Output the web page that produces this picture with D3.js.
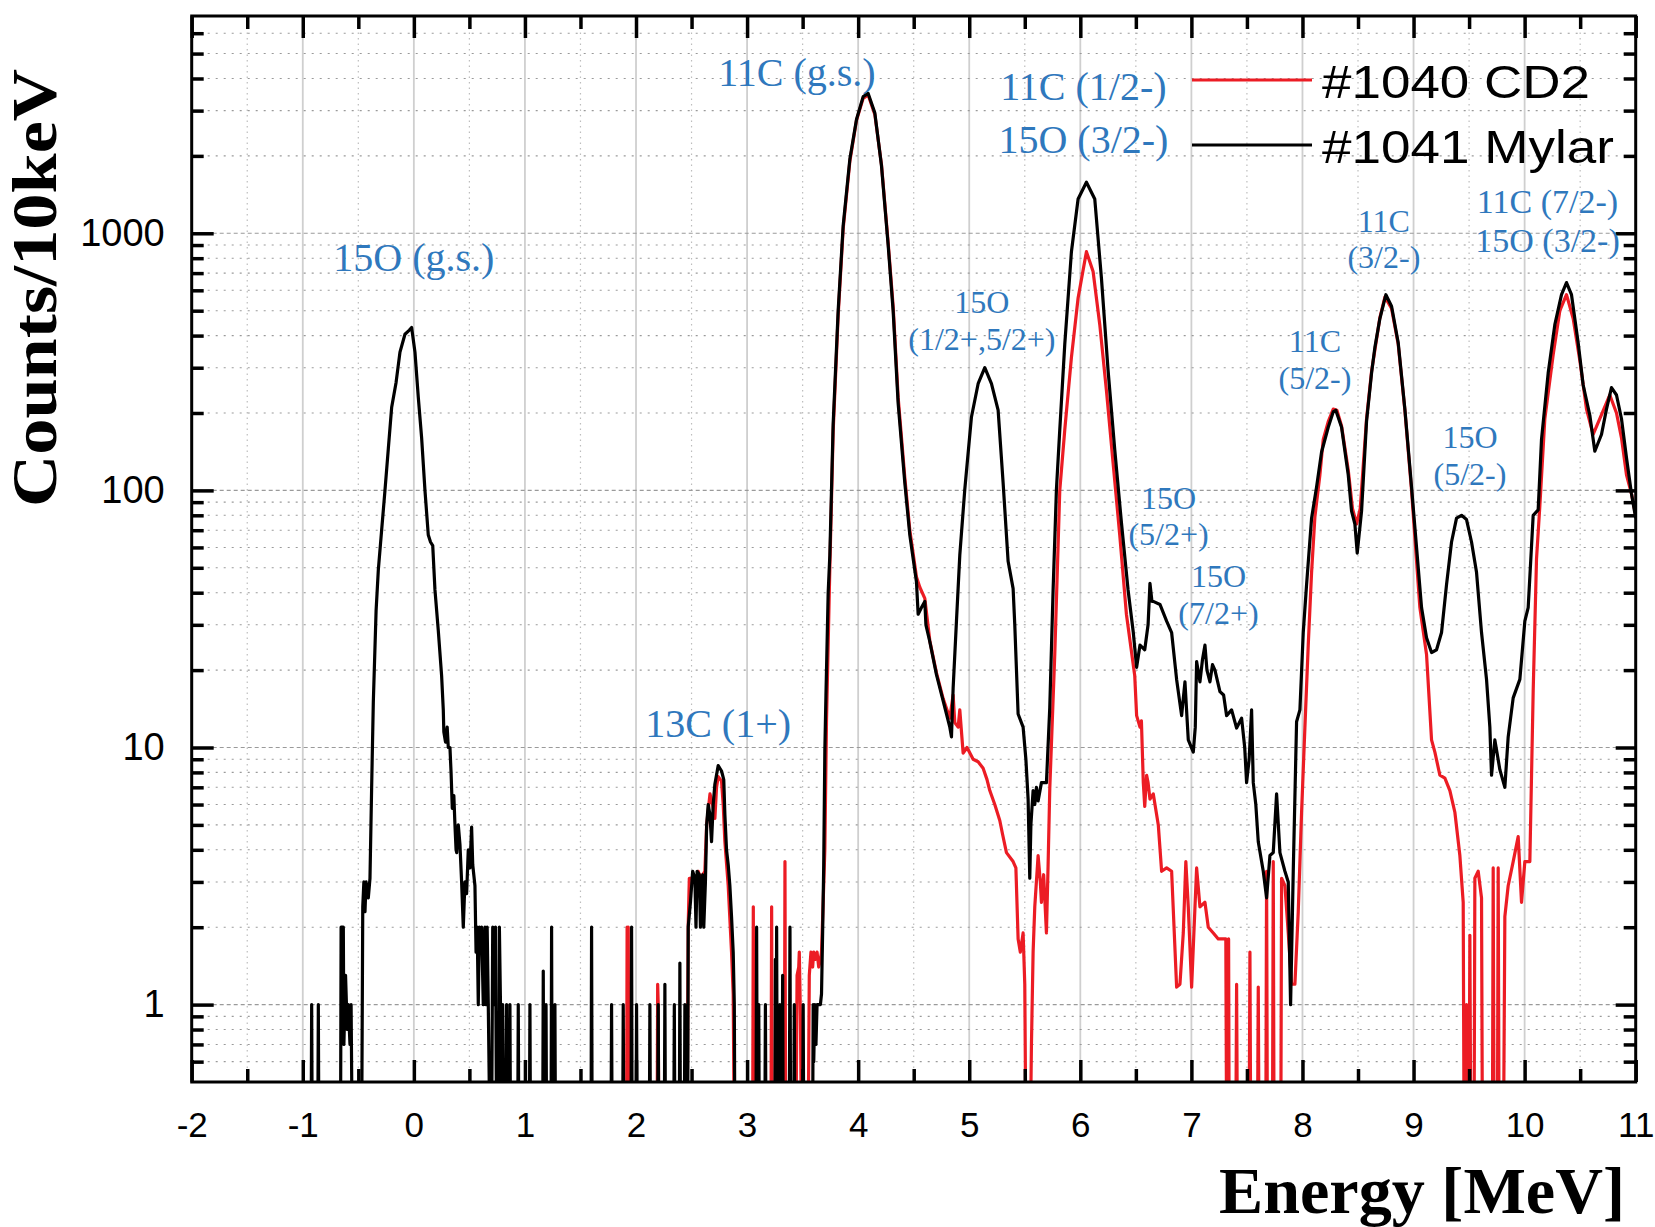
<!DOCTYPE html>
<html>
<head>
<meta charset="utf-8">
<script src="https://cdn.jsdelivr.net/npm/d3@7"></script>
<style>
  html, body { margin: 0; padding: 0; background: #fff; }
  svg { display: block; }
</style>
</head>
<body>
<svg id="chart" width="1655" height="1227"></svg>
<script>
// ---------------- DATA ----------------
const xTickValues = [-2, -1, 0, 1, 2, 3, 4, 5, 6, 7, 8, 9, 10, 11];
const xTickLabels = ["-2", "-1", "0", "1", "2", "3", "4", "5", "6", "7", "8", "9", "10", "11"];
const yTickValues = [1, 10, 100, 1000];
const yTickLabels = ["1", "10", "100", "1000"];
const seriesNames = ["#1040 CD2", "#1041 Mylar"];

// #1041 Mylar spectrum: [energy MeV, counts / 10 keV]
const mylarSpectrum = [
  [-1.0,0],[-0.925,0],[-0.92,1],[-0.915,0],[-0.865,0],[-0.86,1],[-0.855,0],
  [-0.66,0],[-0.655,2],[-0.635,2],[-0.63,0.7],[-0.615,1.3],[-0.6,0.8],[-0.59,1],[-0.575,0.7],[-0.565,1],[-0.555,0],
  [-0.47,0],[-0.46,2.4],[-0.45,3],[-0.44,2.3],[-0.43,3],[-0.41,2.6],[-0.395,3.1],[-0.38,7],[-0.365,15],[-0.34,34],
  [-0.32,49],[-0.29,70],[-0.26,100],[-0.23,145],[-0.2,210],[-0.16,263],[-0.125,345],[-0.08,405],[-0.04,420],
  [-0.02,430],[0.01,345],[0.04,230],[0.07,160],[0.1,100],[0.13,67],[0.15,63],[0.17,61],[0.19,41],[0.22,28.5],
  [0.25,19],[0.265,14],[0.27,11.5],[0.285,10.5],[0.3,12],[0.31,10],[0.325,10],[0.335,8],[0.346,5.8],[0.36,6.5],
  [0.37,5],[0.38,4],[0.386,3.9],[0.4,5],[0.415,4.2],[0.43,3],[0.445,2.0],[0.46,3],[0.475,2.7],[0.49,4],[0.505,3.4],
  [0.52,4.9],[0.53,3.5],[0.55,2.9],[0.56,1.6],[0.57,2],[0.58,1],[0.59,2],[0.6,1.6],[0.61,2],[0.625,1],[0.64,2],
  [0.65,1],[0.66,2],[0.67,1],[0.685,0],[0.7,0],[0.71,2],[0.72,1],[0.735,2],[0.745,0],[0.765,0],[0.77,2],[0.78,1],
  [0.79,0],[0.8,1],[0.81,0],[0.83,0],[0.835,1],[0.84,0],[0.86,0],[0.865,1],[0.87,0],[0.935,0],[0.94,1],[0.945,0],
  [1.04,0],[1.045,1],[1.05,0],[1.16,0],[1.165,1.35],[1.17,0],[1.185,0],[1.19,1],[1.195,0],[1.235,0],[1.24,2],
  [1.245,0],[1.265,0],[1.27,1],[1.275,0],[1.595,0],[1.6,2],[1.605,0],[1.775,0],[1.78,1],[1.785,0],[1.88,0],
  [1.885,1],[1.89,0],[1.955,0],[1.96,2],[1.965,0],[2.0,0],[2.005,1],[2.01,0],[2.12,0],[2.125,1],[2.13,0],
  [2.195,0],[2.2,1],[2.205,0],[2.255,0],[2.26,1.2],[2.265,0],[2.34,0],[2.345,1],[2.35,0],[2.39,0],[2.395,1.45],
  [2.4,0],[2.435,0],[2.44,1],[2.445,0],[2.465,0],[2.47,2],[2.49,2.5],[2.51,3.3],[2.53,3.1],[2.54,2],[2.55,3.3],
  [2.57,3.2],[2.58,2],[2.6,3.2],[2.61,2],[2.625,3],[2.636,5],[2.65,6],[2.665,5.5],[2.68,4.3],[2.695,6],[2.71,7.2],
  [2.74,8.5],[2.77,8.1],[2.79,7.5],[2.8,5.5],[2.815,4],[2.83,3.5],[2.845,2.9],[2.86,2.2],[2.875,1.6],[2.885,1],
  [2.89,0],[3.08,0],[3.086,2],[3.092,0],[3.1,0],[3.105,1],[3.11,0],[3.16,0],[3.165,1],[3.17,0],[3.25,0],
  [3.255,1.5],[3.26,0],[3.266,2],[3.272,0],[3.29,0],[3.295,1],[3.3,0],[3.315,0],[3.32,1.3],[3.325,0],[3.38,0],
  [3.386,2],[3.392,0],[3.42,0],[3.425,1],[3.43,0],[3.5,0],[3.505,1],[3.51,0],[3.59,0],[3.595,1],[3.6,0.6],
  [3.61,1],[3.62,0.7],[3.63,1],[3.645,1],[3.66,1],[3.67,1.1],[3.68,1.9],[3.69,3.5],[3.7,9.7],[3.71,16],[3.715,20],
  [3.73,40],[3.745,56],[3.775,182],[3.82,500],[3.865,1070],[3.925,1940],[3.985,2770],[4.045,3400],[4.09,3500],
  [4.15,2940],[4.21,1830],[4.27,900],[4.315,498],[4.36,218],[4.42,107],[4.465,67],[4.525,44],[4.54,33],[4.57,35],
  [4.6,37],[4.61,30],[4.645,25.8],[4.705,19.2],[4.765,15.2],[4.825,12],[4.84,11],[4.855,17],[4.885,31],[4.915,56],
  [4.96,101],[5.02,193],[5.08,260],[5.14,300],[5.2,260],[5.26,205],[5.305,107],[5.35,53],[5.395,41.5],[5.41,30],
  [5.44,13.5],[5.485,12],[5.51,9],[5.53,6.3],[5.545,3.1],[5.555,5],[5.575,6.8],[5.59,6],[5.605,7.0],[5.62,6.2],
  [5.65,7.3],[5.695,7.3],[5.725,14.3],[5.755,41],[5.785,101],[5.815,172],[5.86,370],[5.92,848],[5.98,1360],
  [6.055,1580],[6.13,1360],[6.19,670],[6.25,293],[6.31,144],[6.37,75],[6.43,41],[6.477,28],[6.507,20.5],
  [6.537,25],[6.58,24],[6.61,30],[6.627,43.5],[6.645,37],[6.657,37],[6.717,36],[6.777,31],[6.822,28],[6.867,18.4],
  [6.912,13.3],[6.942,18],[6.972,10.7],[7.017,9.6],[7.035,12],[7.047,21.6],[7.077,18],[7.1,22],[7.122,25],
  [7.14,20],[7.167,18],[7.19,21],[7.212,20],[7.257,16.5],[7.29,16],[7.317,13.3],[7.362,14],[7.407,11.9],
  [7.452,13],[7.48,10],[7.497,7.3],[7.52,9],[7.542,14],[7.557,7.3],[7.58,6],[7.602,4.3],[7.647,3.3],[7.677,2.6],
  [7.707,3.8],[7.737,3.9],[7.767,6.6],[7.797,3.9],[7.842,3.3],[7.872,3.0],[7.893,1.0],[7.917,3.3],[7.947,12.6],
  [7.977,14],[8.007,28],[8.037,43],[8.082,78],[8.127,103],[8.172,141],[8.232,176],[8.277,202],[8.3,205],
  [8.352,176],[8.412,115],[8.442,83],[8.472,74],[8.493,57],[8.532,83],[8.577,186],[8.622,286],[8.652,360],
  [8.697,466],[8.751,577],[8.802,520],[8.862,375],[8.922,207],[8.982,103],[9.027,60],[9.072,35],[9.117,26.7],
  [9.162,23.4],[9.207,24],[9.252,28],[9.297,43],[9.342,63],[9.387,78],[9.432,80],[9.477,77],[9.522,63],
  [9.567,48],[9.612,28],[9.657,18.4],[9.687,12],[9.702,7.8],[9.732,10.7],[9.777,8.2],[9.822,7.0],[9.852,11],
  [9.897,15.6],[9.957,18.4],[10.002,31],[10.032,35],[10.077,80],[10.122,84],[10.152,158],[10.212,286],
  [10.272,441],[10.332,577],[10.377,643],[10.422,577],[10.482,375],[10.527,257],[10.587,196],[10.632,142],
  [10.692,165],[10.737,207],[10.782,251],[10.827,235],[10.872,190],[10.917,134],[10.962,97],[11.0,78]
];

// #1040 CD2 spectrum: [energy MeV, counts / 10 keV]
const cd2Spectrum = [
  [1.9,0],[1.915,0],[1.92,2],[1.925,1.8],[1.93,2],[1.935,0],[2.19,0],[2.195,1.2],[2.2,1],[2.205,0],
  [2.46,0],[2.47,2.05],[2.48,3.1],[2.5,3.1],[2.52,3.2],[2.54,3.0],[2.56,3.3],[2.58,3.1],[2.6,3.2],[2.62,3.3],
  [2.636,5.0],[2.666,6.6],[2.69,6],[2.71,5.3],[2.725,7],[2.74,7.7],[2.77,7.4],[2.785,6],[2.8,4.3],[2.83,2.9],
  [2.86,1.6],[2.875,1.1],[2.885,0],[3.05,0],[3.056,2.4],[3.062,0],[3.215,0],[3.221,2.4],[3.227,0],[3.335,0],
  [3.341,3.6],[3.347,0],[3.44,0],[3.45,1.3],[3.465,1.4],[3.47,1.6],[3.48,0.9],[3.49,0],[3.55,0],[3.56,1.3],
  [3.575,1.6],[3.59,1.4],[3.6,1.6],[3.615,1.5],[3.63,1.6],[3.645,1.4],[3.66,1.5],[3.67,1.6],[3.685,2.5],[3.7,4],
  [3.715,12.7],[3.745,50],[3.775,170],[3.82,480],[3.865,1040],[3.925,1900],[3.985,2750],[4.045,3350],[4.09,3450],
  [4.15,2900],[4.21,1850],[4.27,920],[4.315,520],[4.36,230],[4.42,112],[4.465,70],[4.525,46],[4.555,42],[4.6,38],
  [4.645,26],[4.705,19.5],[4.765,15.5],[4.825,13],[4.855,16],[4.87,12.5],[4.9,12],[4.915,14],[4.945,9.5],[4.98,10],
  [5.035,9],[5.08,8.8],[5.125,8.3],[5.16,7.5],[5.185,6.8],[5.23,6],[5.275,5.2],[5.3,4.6],[5.335,3.9],[5.395,3.6],
  [5.42,3.4],[5.44,1.8],[5.46,1.6],[5.485,1.9],[5.5,1.2],[5.51,0],[5.55,0],[5.56,0.7],[5.575,1.6],[5.59,2.4],
  [5.62,3.8],[5.64,3.0],[5.65,2.5],[5.67,3.2],[5.695,1.9],[5.71,3.5],[5.725,6.9],[5.77,23],[5.815,100],[5.86,172],
  [5.92,329],[5.98,560],[6.055,848],[6.115,710],[6.175,442],[6.235,245],[6.295,128],[6.355,67],[6.415,33],[6.49,19],
  [6.507,13.3],[6.537,12],[6.55,12.7],[6.567,7.3],[6.58,5.9],[6.597,7.8],[6.61,7.3],[6.627,6.3],[6.657,6.6],
  [6.702,5.0],[6.732,3.3],[6.777,3.4],[6.822,3.3],[6.867,1.17],[6.897,1.2],[6.927,1.9],[6.95,3.6],[6.972,2.4],
  [7.002,1.17],[7.047,3.4],[7.077,2.4],[7.122,2.5],[7.152,2.0],[7.197,1.9],[7.242,1.8],[7.287,1.8],[7.31,1.8],
  [7.317,0],[7.33,0],[7.335,1.8],[7.34,0],[7.4,0],[7.407,1.2],[7.414,0],[7.52,0],[7.527,1.6],[7.534,0],[7.595,0],
  [7.602,1.17],[7.609,0],[7.67,0],[7.677,3.3],[7.684,0],[7.73,0],[7.737,3.6],[7.744,0],[7.805,0],[7.812,3.1],
  [7.842,2.9],[7.872,1.9],[7.902,1.2],[7.932,1.2],[7.962,2.3],[7.992,5.6],[8.022,12],[8.052,25],[8.082,48],
  [8.112,79],[8.157,115],[8.187,158],[8.232,185],[8.277,207],[8.31,205],[8.352,178],[8.412,120],[8.45,85],
  [8.487,74],[8.52,85],[8.577,190],[8.622,290],[8.697,470],[8.742,565],[8.802,510],[8.862,370],[8.922,205],
  [8.982,100],[9.057,35],[9.117,23],[9.162,10.7],[9.192,9.6],[9.237,7.8],[9.282,7.6],[9.327,6.8],[9.372,5.6],
  [9.417,3.8],[9.447,2.5],[9.455,0],[9.47,0],[9.477,1.0],[9.49,0],[9.5,0],[9.507,1.86],[9.515,0],[9.545,0],
  [9.552,3.1],[9.582,3.3],[9.612,2.6],[9.62,0],[9.71,0],[9.717,3.4],[9.725,0],[9.755,0],[9.762,3.4],[9.77,0],
  [9.81,0],[9.822,2.2],[9.852,2.9],[9.897,3.6],[9.942,4.5],[9.972,2.5],[10.002,3.6],[10.047,3.6],[10.077,16.5],
  [10.107,54],[10.137,87],[10.182,190],[10.257,337],[10.317,500],[10.377,577],[10.437,466],[10.497,320],
  [10.557,207],[10.617,165],[10.677,190],[10.767,235],[10.827,200],[10.872,160],[10.917,115],[10.962,97],[11.0,80]
];

// peak labels: text lines, anchor energy, anchor counts (first baseline)
const peakLabels = [
  { lines: ["15O (g.s.)"], e: 0.0, c: 711, size: 40 },
  { lines: ["11C (g.s.)"], e: 3.449, c: 3733, size: 40 },
  { lines: ["11C (1/2-)", "15O (3/2-)"], e: 6.028, c: 3285, size: 40 },
  { lines: ["15O", "(1/2+,5/2+)"], e: 5.114, c: 488, size: 32 },
  { lines: ["13C (1+)"], e: 2.739, c: 10.95, size: 40 },
  { lines: ["15O", "(5/2+)"], e: 6.794, c: 85, size: 32 },
  { lines: ["15O", "(7/2+)"], e: 7.244, c: 42.2, size: 32 },
  { lines: ["11C", "(5/2-)"], e: 8.112, c: 346, size: 32 },
  { lines: ["11C", "(3/2-)"], e: 8.733, c: 1016, size: 32 },
  { lines: ["15O", "(5/2-)"], e: 9.508, c: 146, size: 32 },
  { lines: ["11C (7/2-)", "15O (3/2-)"], e: 10.206, c: 1196, size: 34 }
];

// ---------------- LAYOUT ----------------
const W = 1655, H = 1227;
const X0 = 191.7, X1 = 1635.7, Y0 = 16, Y1 = 1082;
const RED = "#ec1c24", BLACK = "#000000", BLUE = "#2f78bd";

const svg = d3.select("#chart");
svg.append("rect").attr("width", W).attr("height", H).attr("fill", "#fff");

const x = d3.scaleLinear().domain([-2, 11]).range([X0, X1]);
const y = d3.scaleLog().domain([0.5, 7000]).range([Y1, Y0]);

const xMinor = d3.range(-1.5, 11, 1);
const yMinor = [];
[0.1, 1, 10, 100, 1000].forEach(d => {
  for (let k = 2; k <= 9; k++) {
    const v = +(k * d).toPrecision(3);
    if (v > 0.5 && v < 7000) yMinor.push(v);
  }
});

// ---------------- GRID ----------------
const grid = svg.append("g");
grid.selectAll("line.vmin").data(xMinor).join("line")
  .attr("x1", d => x(d)).attr("x2", d => x(d)).attr("y1", Y0).attr("y2", Y1)
  .attr("stroke", "#bdbdbd").attr("stroke-width", 1.2).attr("stroke-dasharray", "1.5,4");
grid.selectAll("line.vmaj").data(xTickValues.slice(1, -1)).join("line")
  .attr("x1", d => x(d)).attr("x2", d => x(d)).attr("y1", Y0).attr("y2", Y1)
  .attr("stroke", "#cfcfcf").attr("stroke-width", 1.8);
grid.selectAll("line.hmin").data(yMinor).join("line")
  .attr("x1", X0).attr("x2", X1).attr("y1", d => y(d)).attr("y2", d => y(d))
  .attr("stroke", "#9a9a9a").attr("stroke-width", 1.1).attr("stroke-dasharray", "2,6");
grid.selectAll("line.hmaj").data(yTickValues).join("line")
  .attr("x1", X0).attr("x2", X1).attr("y1", d => y(d)).attr("y2", d => y(d))
  .attr("stroke", "#9a9a9a").attr("stroke-width", 1.1).attr("stroke-dasharray", "4,3");

// ---------------- SPECTRA ----------------
svg.append("clipPath").attr("id", "plotclip").append("rect")
  .attr("x", X0).attr("y", Y0).attr("width", X1 - X0).attr("height", Y1 - Y0);

const yPos = v => v > 0 ? y(v) : y(0.3);
const line = d3.line().x(d => x(d[0])).y(d => yPos(d[1])).curve(d3.curveLinear);

const plot = svg.append("g").attr("clip-path", "url(#plotclip)");
plot.append("path").datum(cd2Spectrum).attr("d", line)
  .attr("fill", "none").attr("stroke", RED).attr("stroke-width", 3.2).attr("stroke-linejoin", "round");
plot.append("path").datum(mylarSpectrum).attr("d", line)
  .attr("fill", "none").attr("stroke", BLACK).attr("stroke-width", 3.2).attr("stroke-linejoin", "round");

// ---------------- AXES ----------------
const axisStyle = g => {
  g.selectAll(".domain").remove();
  g.selectAll(".tick line").attr("stroke", "#000").attr("stroke-width", 3.5);
};
const tickFont = "'Liberation Sans', Arial, sans-serif";

svg.append("g").attr("transform", `translate(0,${Y1})`)
  .call(d3.axisBottom(x).tickValues(xTickValues).tickFormat((d, i) => xTickLabels[i])
    .tickSize(-22).tickSizeOuter(0).tickPadding(30))
  .call(axisStyle)
  .call(g => g.selectAll("text").attr("font-family", tickFont).attr("font-size", 35).attr("fill", "#000"));
svg.append("g").attr("transform", `translate(0,${Y1})`)
  .call(d3.axisBottom(x).tickValues(xMinor).tickFormat("").tickSize(-13).tickSizeOuter(0))
  .call(axisStyle);
svg.append("g").attr("transform", `translate(0,${Y0})`)
  .call(d3.axisTop(x).tickValues(xTickValues).tickFormat("").tickSize(-22).tickSizeOuter(0))
  .call(axisStyle);
svg.append("g").attr("transform", `translate(0,${Y0})`)
  .call(d3.axisTop(x).tickValues(xMinor).tickFormat("").tickSize(-13).tickSizeOuter(0))
  .call(axisStyle);

svg.append("g").attr("transform", `translate(${X0},0)`)
  .call(d3.axisLeft(y).tickValues(yTickValues).tickFormat((d, i) => yTickLabels[i])
    .tickSize(-22).tickSizeOuter(0).tickPadding(27))
  .call(axisStyle)
  .call(g => g.selectAll("text").attr("font-family", tickFont).attr("font-size", 38).attr("fill", "#000"));
svg.append("g").attr("transform", `translate(${X0},0)`)
  .call(d3.axisLeft(y).tickValues(yMinor).tickFormat("").tickSize(-12).tickSizeOuter(0))
  .call(axisStyle);
svg.append("g").attr("transform", `translate(${X1},0)`)
  .call(d3.axisRight(y).tickValues(yTickValues).tickFormat("").tickSize(-20).tickSizeOuter(0))
  .call(axisStyle);
svg.append("g").attr("transform", `translate(${X1},0)`)
  .call(d3.axisRight(y).tickValues(yMinor).tickFormat("").tickSize(-12).tickSizeOuter(0))
  .call(axisStyle);

// frame
svg.append("rect").attr("x", X0).attr("y", Y0).attr("width", X1 - X0).attr("height", Y1 - Y0)
  .attr("fill", "none").attr("stroke", "#000").attr("stroke-width", 3);

// ---------------- AXIS TITLES ----------------
const serif = "'Liberation Serif', 'Times New Roman', Times, serif";
svg.append("text").text("Energy [MeV]")
  .attr("x", 1219).attr("y", 1213)
  .attr("font-family", serif).attr("font-weight", "bold").attr("font-size", 66)
  .attr("textLength", 406).attr("lengthAdjust", "spacingAndGlyphs").attr("fill", "#000");
svg.append("text").text("Counts/10keV")
  .attr("transform", "translate(56,288) rotate(-90)")
  .attr("text-anchor", "middle")
  .attr("font-family", serif).attr("font-weight", "bold").attr("font-size", 64)
  .attr("textLength", 438).attr("lengthAdjust", "spacingAndGlyphs").attr("fill", "#000");

// ---------------- PEAK LABELS ----------------
const labels = svg.append("g");
peakLabels.forEach(p => {
  const t = labels.append("text")
    .attr("font-family", serif).attr("font-size", p.size).attr("fill", BLUE)
    .attr("text-anchor", "middle");
  const gap = p.size >= 38 ? p.size * 1.32 : p.size * 1.15;
  p.lines.forEach((s, i) => {
    t.append("tspan").attr("x", x(p.e)).attr("y", y(p.c) + i * gap).text(s);
  });
});

// ---------------- LEGEND ----------------
const legend = svg.append("g");
const legendColors = [RED, BLACK];
const legendLen = [268, 292];
seriesNames.forEach((name, i) => {
  const ly = 80 + i * 65;
  legend.append("line").attr("x1", 1192).attr("x2", 1312).attr("y1", ly).attr("y2", ly)
    .attr("stroke", legendColors[i]).attr("stroke-width", 3);
  legend.append("text").text(name)
    .attr("x", 1322).attr("y", ly + 18)
    .attr("font-family", tickFont).attr("font-size", 46).attr("fill", "#000")
    .attr("textLength", legendLen[i]).attr("lengthAdjust", "spacingAndGlyphs");
});
</script>
</body>
</html>
